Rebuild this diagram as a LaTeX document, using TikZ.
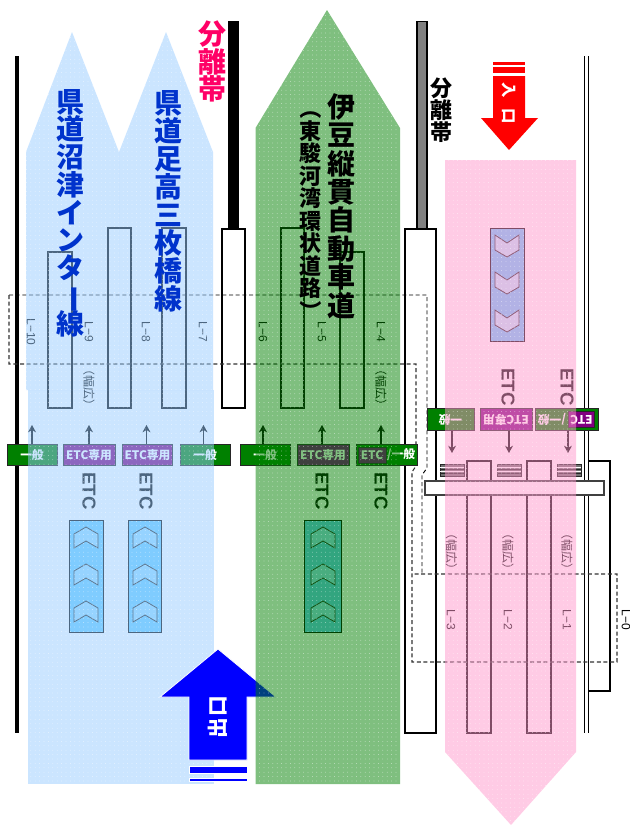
\documentclass[tikz,border=0pt]{standalone}
\usepackage{fontspec}
\usepackage{graphicx}
\setmainfont{Liberation Sans}
\newfontfamily\jp{Noto Sans CJK JP}
\usetikzlibrary{arrows.meta,patterns.meta}
\definecolor{gbox}{RGB}{0,128,0}
\definecolor{pbox}{RGB}{128,0,128}
\definecolor{chbox}{RGB}{102,204,255}
\definecolor{bluereg}{RGB}{153,204,255}
\definecolor{greenreg}{RGB}{0,128,0}
\definecolor{pinkreg}{RGB}{255,153,204}
\definecolor{sep}{RGB}{255,0,102}
\definecolor{title}{RGB}{0,51,204}
\newcommand{\vch}[1]{\makebox[1em]{\smash{\rotatebox[origin=c]{-90}{#1}}}}
\tikzset{
  island/.style={draw=black,line width=1.5pt},
  whiteisland/.style={island,fill=white},
  dashA/.style={draw=black,line width=.7pt,dash pattern=on 3pt off 2pt},
  dashB/.style={draw=black!80,line width=.8pt,dash pattern=on 3pt off 2pt},
  arr/.style={draw=black,line width=1.2pt,-{Stealth[length=5.5pt,width=6pt]}},
  basebox/.style={draw=black!85,line width=.6pt,inner sep=0pt,text=white,font=\jp\bfseries\fontsize{8.8pt}{9pt}\selectfont,minimum height=16pt},
  gb/.style={basebox,fill=gbox},
  pb/.style={basebox,fill=pbox},
  etc/.style={font=\bfseries\fontsize{14pt}{14pt}\selectfont,rotate=-90,inner sep=0pt,text=black},
  lab/.style={font=\fontsize{9pt}{9pt}\selectfont,rotate=-90,inner sep=0pt,text=black},
  wide/.style={font=\jp\fontsize{9pt}{9pt}\selectfont,rotate=-90,inner sep=0pt,text=black},
  chbx/.style={draw=black,line width=.7pt,fill=chbox},
  chev/.style={draw=black!85,line width=.6pt,fill=white,fill opacity=.3},
  chevp/.style={draw=black!85,line width=.6pt,fill=white,fill opacity=.55},
  dots/.style={pattern={Dots[distance=3.3pt,radius=.28pt]},pattern color=white,opacity=.75},
  stack/.style={inner sep=0pt,align=center},
}
\newcommand{\chevup}[2]{\draw[chev] (#1,#2+7) -- (#1+12,#2) -- (#1+24,#2+7) -- (#1+24,#2+21) -- (#1+12,#2+14) -- (#1,#2+21) -- cycle;}
\newcommand{\chevdn}[2]{\draw[chevp] (#1,#2) -- (#1+12,#2+8) -- (#1+24,#2) -- (#1+24,#2+15) -- (#1+12,#2+22) -- (#1,#2+15) -- cycle;}
\newcommand{\gatebar}[1]{\fill[black!55] (#1,464) rectangle (#1+24,476);
  \draw[black!85,line width=.5pt] (#1,464) rectangle (#1+24,476);
  \draw[white,line width=.45pt] (#1,467.5) -- (#1+24,467.5) (#1,471) -- (#1+24,471);
  \draw[black!85,line width=.45pt] (#1,469) -- (#1+24,469) (#1,473) -- (#1+24,473);}
\begin{document}
\begin{tikzpicture}[x=.75pt,y=-.75pt]
\useasboundingbox (0,0) rectangle (630,825);
\fill[white] (0,0) rectangle (630,825);

% side lines and separators
\fill[black] (15,56) rectangle (19,733);
\fill[black] (228,21) rectangle (239,229);
\draw[draw=black,line width=.8pt,fill=black!50] (417,21.5) rectangle (427,229);
\draw[black,line width=1.2pt] (584.6,56) -- (584.6,733) (588.6,56) -- (588.6,733);

% islands
\draw[whiteisland] (222,229) rectangle (245,408);
\draw[whiteisland] (405,229) rectangle (436,733);
\draw[island] (48,252) rectangle (72,408);
\draw[island] (108,228) rectangle (131,408);
\draw[island] (162,228) rectangle (186,408);
\draw[island] (281,228) rectangle (304,408);
\draw[island] (340,252) rectangle (364,408);
\draw[island] (467,461) rectangle (491,733);
\draw[island] (527,461) rectangle (551,733);
\draw[island] (588.6,461) -- (610,461) -- (610,691) -- (588.6,691);
\draw[draw=black!75,line width=1pt,fill=white] (425,481) rectangle (604,495);

% dashed outlines
\draw[dashA] (9,295) -- (427,295) -- (427,468) -- (422,475) -- (422,574);
\draw[dashB] (9,295) -- (9,364) -- (416,364) -- (416,466) -- (412,472) -- (412,662) -- (617,662) -- (617,574) -- (412,574);

% ETC lanes, upward
\draw[chbx] (69,520) rectangle (103,632);
\draw[chbx] (128,520) rectangle (161,632);
\draw[chbx] (304,520) rectangle (341,632);
\foreach \cx in {74,133,311}{\foreach \cy in {527,564,601}{\chevup{\cx}{\cy}}}
% ETC lane, downward
\draw[chbx] (490,228) rectangle (524,341);
\foreach \cy in {235,272,310}{\chevdn{495}{\cy}}

% gates
\gatebar{440}\gatebar{497}\gatebar{557}

% booth boxes
\node[gb,minimum width=37.5pt] (b1) at (32,455) {一般};
\node[pb,minimum width=39pt] (b2) at (89,455) {ETC専用};
\node[pb,minimum width=38pt] (b3) at (147.5,455) {ETC専用};
\node[gb,minimum width=37.5pt] (b4) at (205,455) {一般};
\node[gb,minimum width=37.5pt] (b5) at (265,455) {一般};
\node[pb,minimum width=39pt] (b6) at (323,455) {ETC専用};
\node[gb,minimum width=45.75pt] (b7) at (386.5,455) {};
\node[pb,minimum width=21pt,minimum height=11.5pt] (b7e) at (372,455.5) {ETC};
\node[inner sep=0pt,text=white,font=\jp\bfseries\fontsize{8.8pt}{9pt}\selectfont] (b7t) at (401,455) {/一般};
\node[gb,minimum width=35.25pt,rotate=180] (b8) at (450.5,419.5) {一般};
\node[pb,minimum width=39pt,rotate=180] (b9) at (506,419.5) {ETC専用};
\node[gb,minimum width=47.25pt] (b10) at (566.5,419.5) {};
\node[pb,minimum width=20pt,minimum height=11.5pt,rotate=180] (b10e) at (581.5,419.5) {ETC};
\node[inner sep=0pt,text=white,rotate=180,font=\jp\bfseries\fontsize{8.8pt}{9pt}\selectfont] (b10t) at (552,419.5) {/一般};

% arrows
\coordinate (t1) at (32,425);
\coordinate (t2) at (89,425);
\coordinate (t3) at (146.5,425);
\coordinate (t4) at (203.5,425);
\coordinate (t5) at (263,425);
\coordinate (t6) at (322,425);
\coordinate (t7) at (381,425);
\coordinate (t8) at (452,453);
\coordinate (t9) at (509,453);
\coordinate (t10) at (568,453);
\draw[arr] (b1.north -| t1) -- (t1);
\draw[arr] (b2.north -| t2) -- (t2);
\draw[arr] (b3.north -| t3) -- (t3);
\draw[arr] (b4.north -| t4) -- (t4);
\draw[arr] (b5.north -| t5) -- (t5);
\draw[arr] (b6.north -| t6) -- (t6);
\draw[arr] (b7.north -| t7) -- (t7);
\draw[arr] (b8.north -| t8) -- (t8);
\draw[arr] (b9.north -| t9) -- (t9);
\draw[arr] (b10.south -| t10) -- (t10);

% ETC labels
\node[etc] (e1) at (89,491) {ETC};
\node[etc] (e2) at (146,491) {ETC};
\node[etc] (e3) at (322,491) {ETC};
\node[etc] (e4) at (381,491) {ETC};
\node[etc] (e5) at (508,387) {ETC};
\node[etc] (e6) at (567,387) {ETC};

% lane labels
\node[lab] (l10) at (31,332) {L−10};
\node[lab] (l9) at (89,332) {L−9};
\node[lab] (l8) at (146,332) {L−8};
\node[lab] (l7) at (203,332) {L−7};
\node[lab] (l6) at (263,332) {L−6};
\node[lab] (l5) at (322,332) {L−5};
\node[lab] (l4) at (381,332) {L−4};
\node[lab] (l3) at (451,619.5) {L−3};
\node[lab] (l2) at (508,619.5) {L−2};
\node[lab] (l1) at (567,619.5) {L−1};
\node[lab] (l0) at (626,619.5) {L−0};
\node[wide] (w1) at (89,387) {（幅広）};
\node[wide] (w2) at (381,387) {（幅広）};
\node[wide] (w3) at (451.5,551.5) {（幅広）};
\node[wide] (w4) at (508,551.5) {（幅広）};
\node[wide] (w5) at (567,551.5) {（幅広）};

% blue region
\path[fill=bluereg,opacity=.5] (26,152) -- (72,32) -- (119,152) -- (119,390) -- (26,390) -- cycle;
\path[fill=bluereg,opacity=.5] (119,152) -- (166,32) -- (213,152) -- (213,390) -- (119,390) -- cycle;
\path[fill=bluereg,opacity=.5] (28,390) rectangle (214,784);
\path[dots] (26,152) -- (72,32) -- (119,152) -- (119,390) -- (26,390) -- cycle;
\path[dots] (119,152) -- (166,32) -- (213,152) -- (213,390) -- (119,390) -- cycle;
\path[dots] (28,390) rectangle (214,784);

% exit arrow
\fill[blue,draw=white,line width=.6pt] (218,649) -- (276,697) -- (247,697) -- (247,760) -- (189,760) -- (189,697) -- (160,697) -- cycle;
\fill[blue,draw=white,line width=.5pt] (189,766) rectangle (247,773);
\fill[blue,draw=white,line width=.5pt] (189,778) rectangle (247,781);
\node[rotate=90,inner sep=0pt,text=white,font=\jp\bfseries\fontsize{15.5pt}{16pt}\selectfont] (exit) at (218,717) {出\hspace{1pt}口};

% green region
\path[fill=greenreg,opacity=.5] (255.5,128) -- (327,10) -- (400,128) -- (400,784) -- (255.5,784) -- cycle;
\path[dots] (255.5,128) -- (327,10) -- (400,128) -- (400,784) -- (255.5,784) -- cycle;

% pink region
\path[fill=pinkreg,opacity=.5] (445,160) -- (576,160) -- (576,752) -- (511,825) -- (445,752) -- cycle;
\path[dots] (445,160) -- (576,160) -- (576,752) -- (511,825) -- (445,752) -- cycle;

% entry arrow
\fill[red] (509,150) -- (481,118) -- (493,118) -- (493,76) -- (525,76) -- (525,118) -- (538,118) -- cycle;
\fill[red] (493,62) rectangle (525,65);
\fill[red] (493,67) rectangle (525,73);
\node[rotate=-90,inner sep=0pt,text=white,font=\jp\bfseries\fontsize{11.5pt}{12pt}\selectfont] (entry) at (509,103) {入\hspace{8pt}口};

% titles
\node[stack,text=sep,font=\jp\bfseries\fontsize{21pt}{20.8pt}\selectfont] (s1) at (212.5,61.5) {分\\離\\帯};
\node[stack,text=black,font=\jp\bfseries\fontsize{16.5pt}{16.4pt}\selectfont] (s2) at (441,110.5) {分\\離\\帯};
\node[stack,text=title,font=\jp\bfseries\fontsize{21pt}{20.8pt}\selectfont] (r1) at (70,213) {県\\道\\沼\\津\\イ\\ン\\タ\\\vch{ー}\\線};
\node[stack,text=title,font=\jp\bfseries\fontsize{21pt}{21pt}\selectfont] (r2) at (168.5,201.5) {県\\道\\足\\高\\三\\枚\\橋\\線};
\node[stack,text=black,font=\jp\bfseries\fontsize{21pt}{21.3pt}\selectfont] (r3) at (341,206) {伊\\豆\\縦\\貫\\自\\動\\車\\道};
\node[stack,text=black,font=\jp\bfseries\fontsize{16.5pt}{16.9pt}\selectfont] (r4) at (310.5,218) {\vch{（}\\東\\駿\\河\\湾\\環\\状\\道\\路\\\vch{）}};
\end{tikzpicture}
\end{document}
